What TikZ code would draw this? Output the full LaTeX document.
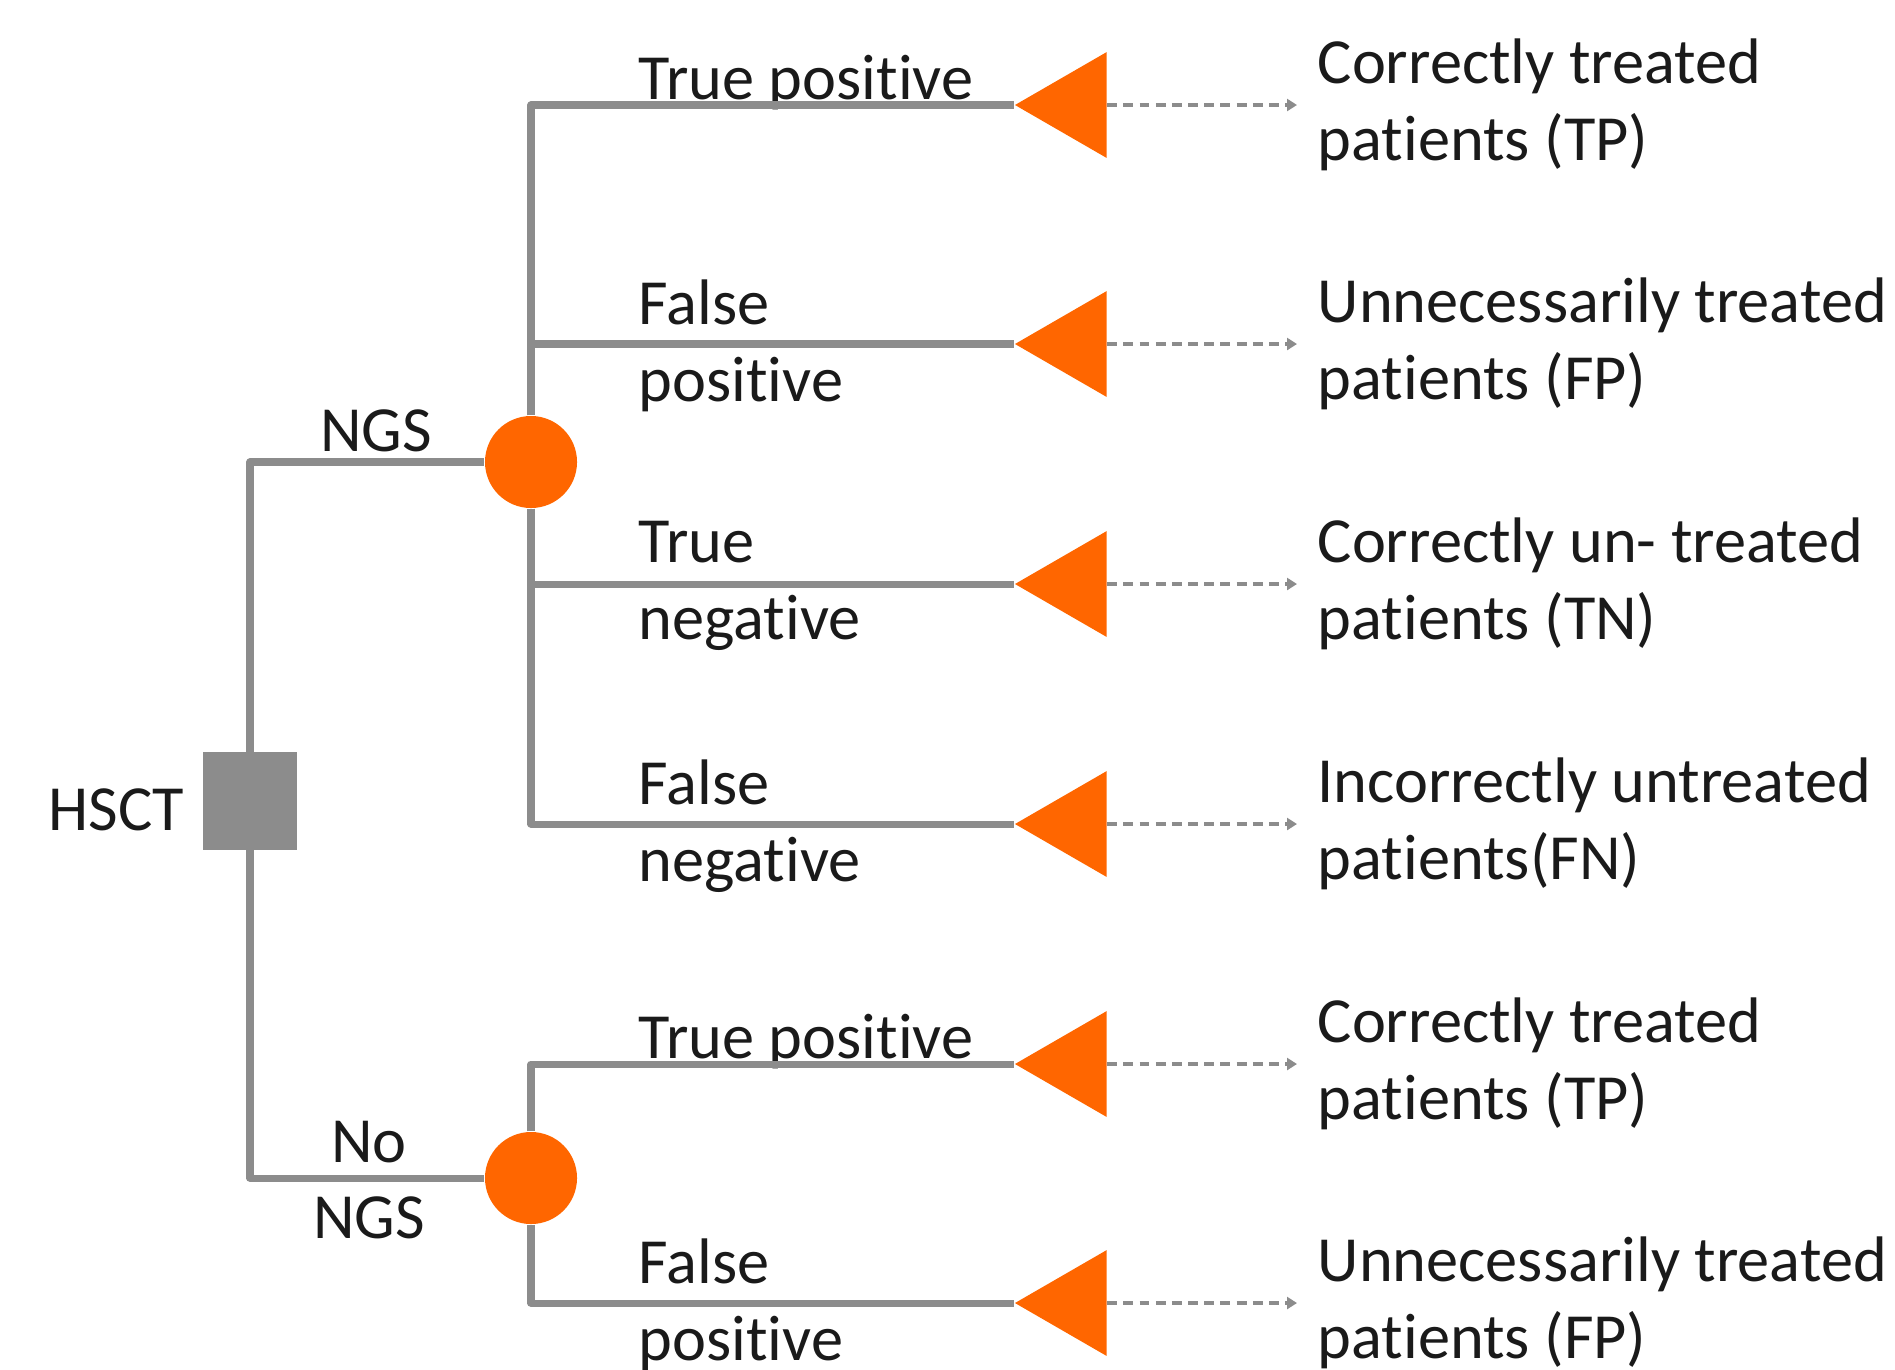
\documentclass[tikz,border=0pt]{standalone}
\usepackage{fontspec}
\setmainfont[Ligatures=CommonOff]{Carlito}
\usetikzlibrary{shapes.geometric,arrows.meta}
\definecolor{branchgray}{HTML}{8C8C8C}
\definecolor{chanceorange}{HTML}{FF6600}
\definecolor{textblack}{HTML}{1A1A1A}

\begin{document}
\begin{tikzpicture}[x=0.01cm, y=-0.01cm,
    every node/.style={text=textblack, font=\fontsize{18.3}{21.8}\selectfont, inner sep=0pt},
    decision/.style={rectangle, fill=branchgray, minimum width=0.93cm, minimum height=0.97cm},
    chance/.style={circle, fill=chanceorange, minimum size=0.92cm},
    terminal/.style={regular polygon, regular polygon sides=3, shape border rotate=90, fill=chanceorange, minimum size=1.22cm},
    branch/.style={draw=branchgray, line width=2pt, line join=round},
    payoff/.style={draw=branchgray, line width=1pt, dash pattern=on 2.8pt off 1.8pt, -{Triangle[length=0.1cm, width=0.12cm]}, shorten >=0.2cm},
    outcome/.style={anchor=west, align=left}]
    \useasboundingbox (0,0) rectangle (1895,1369);

    \node[decision] (D) at (250,801) {};
    \node[chance] (C1) at (531,462) {};
    \node[chance] (C2) at (531,1178) {};

    \node[anchor=base east] (Lhsct) at (185,830) {HSCT};
    \node[anchor=base] (Lngs) at (376,451) {NGS};
    \node[align=center] (Lnongs) at (369,1180) {No\\NGS};

    \node[terminal] (T1) at (1076,105) {};
    \node[terminal] (T2) at (1076,344) {};
    \node[terminal] (T3) at (1076,584) {};
    \node[terminal] (T4) at (1076,824) {};
    \node[terminal] (T5) at (1076,1064) {};
    \node[terminal] (T6) at (1076,1303) {};

    \node[anchor=base west] (L1) at (638,99) {True positive};
    \node[anchor=west, align=left] (L2) at (638,346) {False\\positive};
    \node[anchor=west, align=left] (L3) at (638,586) {True\\negative};
    \node[anchor=west, align=left] (L4) at (638,826) {False\\negative};
    \node[anchor=base west] (L5) at (638,1058) {True positive};
    \node[anchor=west, align=left] (L6) at (638,1305) {False\\positive};

    \node[outcome] (O1) at (1317,105) {Correctly treated\\patients (TP)};
    \node[outcome] (O2) at (1317,344) {Unnecessarily treated\\patients (FP)};
    \node[outcome] (O3) at (1317,584) {Correctly un- treated\\patients (TN)};
    \node[outcome] (O4) at (1317,824) {Incorrectly untreated\\patients(FN)};
    \node[outcome] (O5) at (1317,1064) {Correctly treated\\patients (TP)};
    \node[outcome] (O6) at (1317,1303) {Unnecessarily treated\\patients (FP)};

    \draw[branch] (D) |- (C1);
    \draw[branch] (D) |- (C2);
    \draw[branch] (C1) |- (T1);
    \draw[branch] (C1) |- (T2);
    \draw[branch] (C1) |- (T3);
    \draw[branch] (C1) |- (T4);
    \draw[branch] (C2) |- (T5);
    \draw[branch] (C2) |- (T6);

    \draw[payoff] (T1) -- (O1);
    \draw[payoff] (T2) -- (O2);
    \draw[payoff] (T3) -- (O3);
    \draw[payoff] (T4) -- (O4);
    \draw[payoff] (T5) -- (O5);
    \draw[payoff] (T6) -- (O6);
\end{tikzpicture}
\end{document}
